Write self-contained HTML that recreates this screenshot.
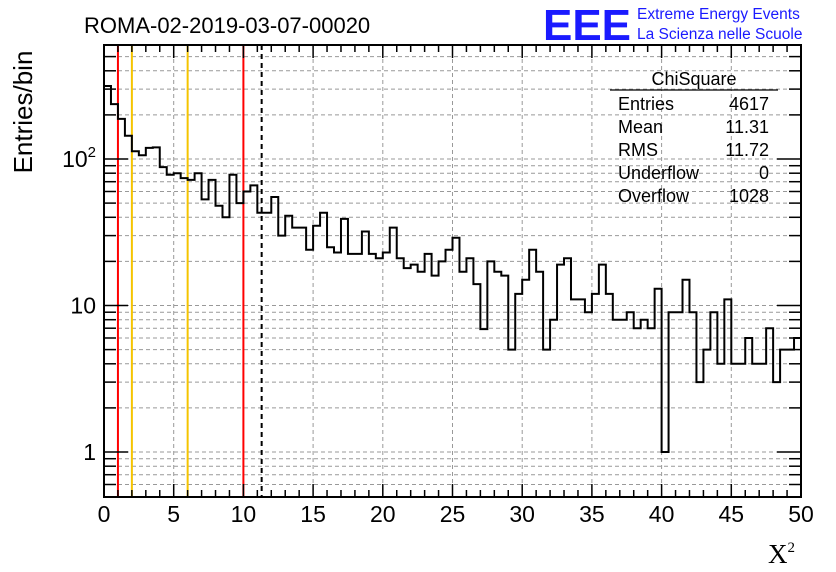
<!DOCTYPE html>
<html><head><meta charset="utf-8"><style>
body{margin:0;background:#fff;}
svg{display:block;font-family:"Liberation Sans",sans-serif;}
</style></head><body>
<svg id="c" width="836" height="572" viewBox="0 0 836 572">
<text x="84" y="33" font-size="22">ROMA-02-2019-03-07-00020</text>
<text x="543" y="40" font-size="44" font-weight="bold" fill="#1a1aff" textLength="88" lengthAdjust="spacingAndGlyphs">EEE</text>
<text x="637" y="19" font-size="15.5" fill="#1a1aff">Extreme Energy Events</text>
<text x="637" y="39" font-size="15.5" fill="#1a1aff">La Scienza nelle Scuole</text>
<g id="grid"></g>
<g id="marks"></g>
<g id="axes"></g>
<text transform="translate(32,112) rotate(-90)" text-anchor="middle" font-size="26">Entries/bin</text>
<text x="768" y="563" font-size="27" font-family="Liberation Serif,serif">X<tspan font-size="15" dy="-11">2</tspan></text>
<g font-size="18">
<text x="694" y="85" text-anchor="middle">ChiSquare</text>
<line x1="610" y1="90" x2="778" y2="90" stroke="#000" stroke-width="1.2"/>
<text x="618" y="110">Entries</text><text x="769" y="110" text-anchor="end">4617</text>
<text x="618" y="133">Mean</text><text x="769" y="133" text-anchor="end">11.31</text>
<text x="618" y="156">RMS</text><text x="769" y="156" text-anchor="end">11.72</text>
<text x="618" y="179">Underflow</text><text x="769" y="179" text-anchor="end">0</text>
<text x="618" y="202">Overflow</text><text x="769" y="202" text-anchor="end">1028</text>
</g>
</svg>
<script>
const binCounts=[315,237,188,144,113,106,119,120,88,78,80,74,72,80,53,72,48,40,78,50,60,66,43,43,55,30,41,34,34,24,35,43,25,23,39,22.5,22.5,32,22.5,21,23,34,21,18,19,17,22.5,16,20,24,29,17,21,14,6.9,20,17,16,5,12,15,24,17,5,8,19,21,11,11,9,12,19,12,8,8,9,7,8,7,13,1,9,9,15,9,3,5,9,4,11,4,4,6,4,4,7,3,5,5,6];
const xTicks=[0,5,10,15,20,25,30,35,40,45,50];
const yMajor=[1,10,100];
const yMajorLabels=["1","10","10²"];
const cutLines=[{x:1,c:"#f00",d:""},{x:2,c:"#f5c400",d:""},{x:6,c:"#f5c400",d:""},{x:10,c:"#f00",d:""},{x:11.31,c:"#000",d:"5,4"}];
const binWidth=0.5;
const X0=104,X1=801,Y0=497,Y1=45;
const xs=v=>X0+(v/50)*(X1-X0);
const ys=v=>452-146.5*Math.log10(v);
const NS="http://www.w3.org/2000/svg";
function mk(p,t,a){const e=document.createElementNS(NS,t);for(const k in a)e.setAttribute(k,a[k]);p.appendChild(e);return e;}
const grid=document.getElementById('grid'),marks=document.getElementById('marks'),axes=document.getElementById('axes');
for(const t of xTicks.slice(1,-1)){const l=mk(grid,'line',{x1:xs(t),x2:xs(t),y1:Y1,y2:Y0,stroke:'#999','stroke-dasharray':'4,3'});

}
const minors=[];for(let d=0.1;d<=100;d*=10)for(let m=1;m<10;m++){const v=+(m*d).toPrecision(3);const y=ys(v);if(y<Y0-1&&y>Y1+1)minors.push(v);}
for(const v of minors){const l=mk(grid,'line',{x1:X0,x2:X1,y1:ys(v),y2:ys(v),stroke:'#999','stroke-dasharray':'4,3'});

}
for(const c of cutLines){const l=mk(marks,'line',{x1:xs(c.x),x2:xs(c.x),y1:Y1,y2:Y0,stroke:c.c,'stroke-width':2,'stroke-dasharray':c.d});

}
let d='M'+X0+','+Y0;
binCounts.forEach((v,i)=>{const y=ys(v);d+=' L'+xs(i*binWidth)+','+y+' L'+xs((i+1)*binWidth)+','+y;});
const h=mk(marks,'path',{d:d,fill:'none',stroke:'#000','stroke-width':2});


const f=mk(axes,'rect',{x:X0,y:Y1,width:X1-X0,height:Y0-Y1,fill:'none',stroke:'#000','stroke-width':2});


for(let t=0;t<=50;t+=1){const L=t%5===0?13:7;
mk(axes,'line',{x1:xs(t),x2:xs(t),y1:Y0,y2:Y0-L,stroke:'#000','stroke-width':1.5});
mk(axes,'line',{x1:xs(t),x2:xs(t),y1:Y1,y2:Y1+L,stroke:'#000','stroke-width':1.5});}
for(const t of xTicks){const tx=mk(axes,'text',{x:xs(t),y:522,'text-anchor':'middle','font-size':23});tx.textContent=t;

}
for(const v of minors){const L=yMajor.includes(v)?24:12;
mk(axes,'line',{x1:X0,x2:X0+L,y1:ys(v),y2:ys(v),stroke:'#000','stroke-width':1.5});
mk(axes,'line',{x1:X1,x2:X1-L,y1:ys(v),y2:ys(v),stroke:'#000','stroke-width':1.5});}
yMajor.forEach((v,i)=>{const tx=mk(axes,'text',{x:96,y:ys(v)+8,'text-anchor':'end','font-size':23});
if(i===2){tx.textContent='10';const s=mk(tx,'tspan',{'font-size':15,dy:-10});s.textContent='2';}else tx.textContent=yMajorLabels[i];

});
</script>
</body></html>
